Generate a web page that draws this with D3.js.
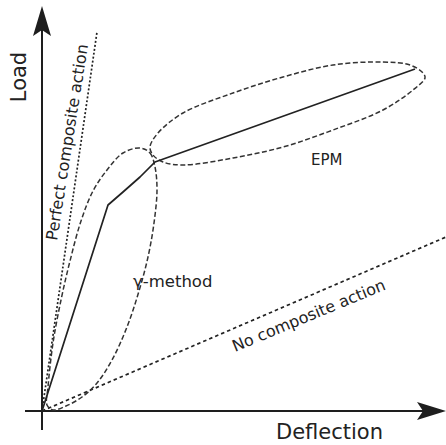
<!DOCTYPE html>
<html>
<head>
<meta charset="utf-8">
<script src="https://cdn.jsdelivr.net/npm/d3@7"></script>
<style>
  html, body { margin: 0; padding: 0; background: #fff; }
  svg { display: block; }
  text { font-family: "DejaVu Sans", sans-serif; fill: #222; }
</style>
</head>
<body>
<script>
// ---- data (schematic units: deflection / load measured from the origin) ----
const axisLabels = ["Deflection", "Load"];
const curveLabels = ["Perfect composite action", "No composite action", "γ-method", "EPM"];

// load-deflection response (solid line)
const responseDeflection = [0, 66, 81, 98, 113, 373];
const responseLoad       = [0, 206, 219, 234, 249, 342];

// bounding lines (dotted)
const perfectDeflection = [0, 55];
const perfectLoad       = [0, 379];
const noneDeflection    = [0, 404];
const noneLoad          = [0, 174];

// γ-method region (closed dashed curve)
const gammaDeflection = [98, 108, 113, 115, 112, 106, 97, 85, 70, 55, 40, 24, 11, 5, 6, 11, 19, 28, 39, 51, 65, 81];
const gammaLoad       = [263, 258, 244, 221, 188, 154, 120, 84, 51, 28, 14, 5, 1, 6, 24, 68, 111, 150, 190, 220, 241, 258];

// EPM region (closed dashed curve)
const epmDeflection = [108, 116, 141, 191, 241, 291, 341, 368, 381, 383, 371, 341, 291, 241, 191, 141, 121, 111];
const epmLoad       = [264, 278, 298, 318, 334, 346, 349, 346, 338, 333, 321, 301, 281, 264, 253, 246, 249, 256];

// ---- layout ----
const W = 446, H = 445;
const x = d3.scaleLinear().domain([0, 404]).range([42, 446]);
const y = d3.scaleLinear().domain([0, 405]).range([411, 6]);

const svg = d3.select("body").append("svg").attr("width", W).attr("height", H);

const zip = (a, b) => a.map((v, i) => [v, b[i]]);
const line = d3.line().x(d => x(d[0])).y(d => y(d[1]));
const closed = d3.line().x(d => x(d[0])).y(d => y(d[1])).curve(d3.curveCatmullRomClosed.alpha(0.5));

// axes
const axisColor = "#1e1e1e";
svg.append("path").attr("d", line([[-17, 0], [398, 0]]))
  .attr("stroke", axisColor).attr("stroke-width", 2).attr("fill", "none");
svg.append("path").attr("d", line([[0, -19], [0, 398]]))
  .attr("stroke", axisColor).attr("stroke-width", 2).attr("fill", "none");
// arrow heads
svg.append("path").attr("d", line([[404, 0], [375, 9], [381, 0], [375, -9]]) + "Z")
  .attr("fill", axisColor);
svg.append("path").attr("d", line([[0, 405], [-9, 375], [0, 381], [9, 375]]) + "Z")
  .attr("fill", axisColor);

// dotted bounding lines
svg.append("path").attr("d", line(zip(perfectDeflection, perfectLoad)))
  .attr("stroke", "#222").attr("stroke-width", 1.7).attr("stroke-dasharray", "2,2").attr("fill", "none");
svg.append("path").attr("d", line(zip(noneDeflection, noneLoad)))
  .attr("stroke", "#222").attr("stroke-width", 1.7).attr("stroke-dasharray", "3.5,3").attr("fill", "none");

// dashed regions
svg.append("path").attr("d", closed(zip(gammaDeflection, gammaLoad)))
  .attr("stroke", "#333").attr("stroke-width", 1.5).attr("stroke-dasharray", "5,2.5").attr("fill", "none");
svg.append("path").attr("d", closed(zip(epmDeflection, epmLoad)))
  .attr("stroke", "#333").attr("stroke-width", 1.5).attr("stroke-dasharray", "5,2.5").attr("fill", "none");

// response curve
svg.append("path").attr("d", line(zip(responseDeflection, responseLoad)))
  .attr("stroke", "#222").attr("stroke-width", 1.7).attr("fill", "none").attr("stroke-linejoin", "round");

// axis labels
svg.append("text").attr("x", 276).attr("y", 439).attr("font-size", 21).text(axisLabels[0]);
svg.append("text").attr("transform", "translate(26,77) rotate(-90)")
  .attr("text-anchor", "middle").attr("font-size", 21).text(axisLabels[1]);

// curve labels
svg.append("text").attr("transform", "translate(57,241) rotate(-81)")
  .attr("font-size", 16).text(curveLabels[0]);
svg.append("text").attr("transform", "translate(235,352) rotate(-22.5)")
  .attr("font-size", 16).text(curveLabels[1]);
svg.append("text").attr("x", 133).attr("y", 287).attr("font-size", 16.5).text(curveLabels[2]);
svg.append("text").attr("x", 311).attr("y", 165).attr("font-size", 15).text(curveLabels[3]);
</script>
</body>
</html>
